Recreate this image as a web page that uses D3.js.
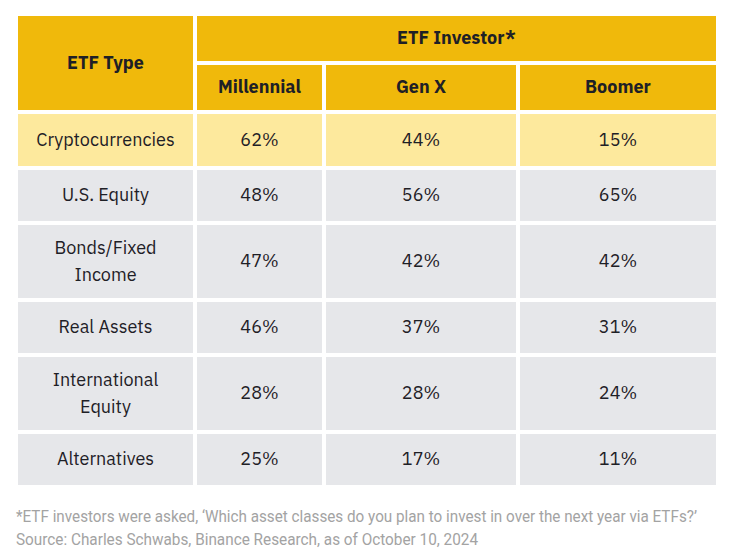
<!DOCTYPE html>
<html><head><meta charset="utf-8">
<script src="https://cdn.jsdelivr.net/npm/d3@7"></script>
<style>body{margin:0;background:#fff}svg{display:block}</style>
</head><body>
<script>
// ---- data ----
const categories = ["Cryptocurrencies", "U.S. Equity", "Bonds/Fixed Income", "Real Assets", "International Equity", "Alternatives"];
const categoryLines = [["Cryptocurrencies"], ["U.S. Equity"], ["Bonds/Fixed", "Income"], ["Real Assets"], ["International", "Equity"], ["Alternatives"]];
const generations = ["Millennial", "Gen X", "Boomer"];
const millennial = [62, 48, 47, 46, 28, 25];
const genX = [44, 56, 42, 37, 28, 17];
const boomer = [15, 65, 42, 31, 24, 11];
const headerTitle = "ETF Investor*";
const firstColTitle = "ETF Type";
const footnotes = ["*ETF investors were asked, \u2018Which asset classes do you plan to invest in over the next year via ETFs?\u2019",
                   "Source: Charles Schwabs, Binance Research, as of October 10, 2024"];

// ---- layout ----
const W = 735, H = 558;
const gap = 4;
const colEdges = [18, 197, 326, 520, 716];
const rowEdges = [114, 170, 225, 302, 357, 434, 489];
const headTop = 16, headMid = 61, headBottom = 110;
const FONT = "'IBM Plex Sans', 'Noto Sans', Roboto, sans-serif";
const FOOT_FONT = "Roboto, 'Noto Sans', sans-serif";
const yellow = "#F0B90B", lightYellow = "#FDE99D", gray = "#E6E7EA", ink = "#1E2026";
const footWidths = [681, 462];

const svg = d3.select("body").append("svg").attr("width", W).attr("height", H);

const seriesByGen = [millennial, genX, boomer];
const colKeys = ["type"].concat(generations);
const xLeft = d3.scaleOrdinal().domain(colKeys).range(colEdges.slice(0, 4));
const xRight = d3.scaleOrdinal().domain(colKeys).range(colEdges.slice(1).map((e, i) => i < 3 ? e - gap : e));
const yTop = d3.scaleOrdinal().domain(categories).range(rowEdges.slice(0, 6));
const yBot = d3.scaleOrdinal().domain(categories).range(rowEdges.slice(1).map(e => e - gap));
const fmt = v => d3.format("d")(v) + "%";

// header cells
svg.append("rect").attr("x", xLeft("type")).attr("y", headTop)
  .attr("width", xRight("type") - xLeft("type")).attr("height", headBottom - headTop).attr("fill", yellow);
svg.append("rect").attr("x", xLeft("Millennial")).attr("y", headTop)
  .attr("width", xRight("Boomer") - xLeft("Millennial")).attr("height", headMid - headTop).attr("fill", yellow);
svg.selectAll("rect.gen").data(generations).join("rect").attr("class", "gen")
  .attr("x", d => xLeft(d)).attr("y", headMid + gap)
  .attr("width", d => xRight(d) - xLeft(d)).attr("height", headBottom - headMid - gap).attr("fill", yellow);

const bold = sel => sel.attr("font-family", FONT).attr("font-weight", 700).attr("font-size", 18)
  .attr("fill", ink).attr("text-anchor", "middle").attr("dominant-baseline", "central");
svg.append("text").text(firstColTitle).attr("x", (xLeft("type") + xRight("type")) / 2).attr("y", (headTop + headBottom) / 2 - 1).call(bold);
svg.append("text").text(headerTitle).attr("x", (xLeft("Millennial") + xRight("Boomer")) / 2).attr("y", (headTop + headMid) / 2 - 1).call(bold);
svg.selectAll("text.gen").data(generations).join("text").attr("class", "gen").text(d => d)
  .attr("x", d => (xLeft(d) + xRight(d)) / 2).attr("y", (headMid + gap + headBottom) / 2 - 1).call(bold);

// body
const rows = categories.map((c, i) => ({cat: c, lines: categoryLines[i], vals: seriesByGen.map(s => s[i]), idx: i}));
const rowG = svg.selectAll("g.row").data(rows).join("g").attr("class", "row");
rowG.each(function(r) {
  const g = d3.select(this);
  const fill = r.idx === 0 ? lightYellow : gray;
  const y0 = yTop(r.cat), y1 = yBot(r.cat), cy = (y0 + y1) / 2;
  colKeys.forEach((k) => {
    g.append("rect").attr("x", xLeft(k)).attr("y", y0).attr("width", xRight(k) - xLeft(k)).attr("height", y1 - y0).attr("fill", fill);
  });
  const cx = (xLeft("type") + xRight("type")) / 2;
  const lh = 27;
  r.lines.forEach((ln, li) => {
    g.append("text").text(ln).attr("x", cx).attr("y", cy + (li - (r.lines.length - 1) / 2) * lh - 1)
      .attr("font-family", FONT).attr("font-size", 18).attr("fill", ink)
      .attr("text-anchor", "middle").attr("dominant-baseline", "central");
  });
  generations.forEach((gname, j) => {
    g.append("text").text(fmt(r.vals[j])).attr("x", (xLeft(gname) + xRight(gname)) / 2).attr("y", cy - 1)
      .attr("font-family", FONT).attr("font-size", 18).attr("fill", ink)
      .attr("text-anchor", "middle").attr("dominant-baseline", "central");
  });
});

// footnotes
svg.selectAll("text.foot").data(footnotes).join("text").attr("class", "foot").text(d => d)
  .attr("x", 16).attr("y", (d, i) => 522 + i * 23)
  .attr("textLength", (d, i) => footWidths[i]).attr("lengthAdjust", "spacingAndGlyphs")
  .attr("font-family", FOOT_FONT).attr("font-size", 16).attr("fill", "#A3A3A3");
</script>
</body></html>
